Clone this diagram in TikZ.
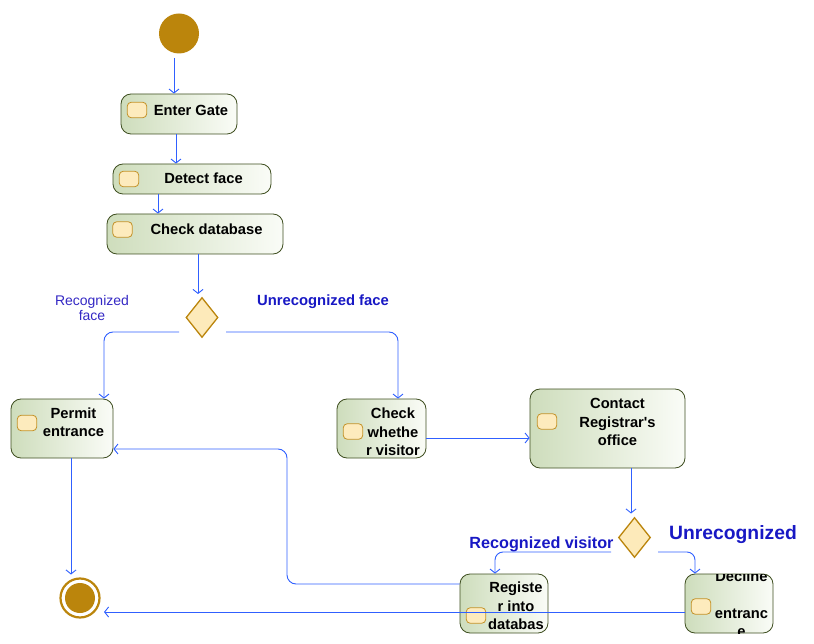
\documentclass[tikz,border=0pt]{standalone}
\usepackage{fontspec}
\setmainfont{Liberation Sans}
\newfontfamily\plainsans{Liberation Sans}
\usetikzlibrary{arrows.meta,shapes.geometric}
\definecolor{boxL}{RGB}{206,221,188}
\definecolor{boxR}{RGB}{250,252,247}
\definecolor{boxB}{RGB}{62,78,32}
\definecolor{iconF}{RGB}{253,235,189}
\definecolor{iconB}{RGB}{196,146,40}
\definecolor{gold}{RGB}{187,133,12}
\definecolor{diaF}{RGB}{253,234,186}
\definecolor{flowC}{RGB}{48,96,255}
\definecolor{lblA}{RGB}{52,40,196}
\definecolor{lblB}{RGB}{24,24,196}
\tikzset{
  act/.style={rectangle, rounded corners=10pt, draw=boxB, line width=0.8pt,
    left color=boxL, right color=boxR, inner sep=0pt},
  icon/.style={rectangle, rounded corners=4pt, draw=iconB, fill=iconF, line width=0.8pt,
    minimum width=19.5pt, minimum height=15.5pt, inner sep=0pt},
  atext/.style={font=\bfseries\fontsize{14.7}{18.3}\selectfont, align=center, inner sep=0pt},
  decis/.style={shape=diamond, draw=gold, fill=diaF, line width=1.3pt,
    minimum width=32pt, minimum height=40pt, inner sep=0pt},
  flow/.style={draw=flowC, line width=0.9pt, -{Straight Barb[length=4pt,width=10pt]}},
}
\begin{document}
\begin{tikzpicture}[x=1pt,y=-1pt]
\useasboundingbox (0,0) rectangle (814,644);
% start
\node[circle, fill=gold, minimum size=40pt, inner sep=0pt] (start) at (179,33.5) {};
% activities
\node[act, minimum width=116pt, minimum height=40pt] (enter) at (179,114) {};
\node[icon] (ienter) at (137,110) {};
\node[atext, anchor=base] (tenter) at (191,115.5) {Enter Gate};

\node[act, minimum width=158pt, minimum height=30pt] (detect) at (192,179) {};
\node[icon] (idetect) at (129,179) {};
\node[atext, anchor=base] (tdetect) at (203.5,184) {Detect face};

\node[act, minimum width=176pt, minimum height=40pt] (checkdb) at (195,234) {};
\node[icon] (icheckdb) at (122.5,229.5) {};
\node[atext, anchor=base] (tcheckdb) at (206.5,235) {Check database};

\node[decis] (d1) at (202,317.5) {};

\node[act, minimum width=102pt, minimum height=59pt] (permit) at (62,428.5) {};
\node[icon] (ipermit) at (27,423) {};
\node[atext] (tpermit) at (73.5,422.5) {Permit\\entrance};

\node[act, minimum width=89pt, minimum height=59pt] (checkv) at (381.5,428.5) {};
\node[icon] (icheckv) at (353,431.5) {};
\node[atext] (tcheckv) at (393,432) {Check\\whethe\\r visitor};

\node[act, minimum width=155pt, minimum height=79pt] (contact) at (607.5,428.5) {};
\node[icon] (icontact) at (547,421.5) {};
\node[atext] (tcontact) at (617.5,422) {Contact\\Registrar{\plainsans\bfseries '}s\\office};

\node[decis] (d2) at (634.5,537.5) {};

\node[act, minimum width=88pt, minimum height=59pt] (register) at (504,603.5) {};
\node[icon] (iregister) at (476,615.5) {};
\begin{scope}
\clip[rounded corners=10pt] (460,574) rectangle (548,633);
\node[atext] (tregister) at (516,606) {Registe\\r into\\databas};
\end{scope}

\node[act, minimum width=88pt, minimum height=59pt] (decline) at (729,603.5) {};
\node[icon] (idecline) at (701,606.5) {};
\begin{scope}
\clip[rounded corners=10pt] (685,574) rectangle (773,633);
\node[atext] (tdecline) at (741.5,604) {Decline\\\mbox{}\\entranc\\e};
\end{scope}

% final
\node[circle, draw=gold, line width=2.2pt, minimum size=39pt, inner sep=0pt] (final) at (80,598) {};
\node[circle, fill=gold, minimum size=30pt, inner sep=0pt] (finalin) at (80,598) {};

% labels
\node[font=\fontsize{14}{15.5}\selectfont, text=lblA, align=center, inner sep=0pt] (lrf) at (92,308) {Recognized\\face};
\node[font=\bfseries\fontsize{14.8}{17}\selectfont, text=lblB, anchor=base, inner sep=0pt] (luf) at (323,306) {Unrecognized face};
\node[font=\bfseries\fontsize{16.2}{18}\selectfont, text=lblB, anchor=base, inner sep=0pt] (lrv) at (541.5,548.5) {Recognized visitor};
\node[font=\bfseries\fontsize{19.3}{22}\selectfont, text=lblB, anchor=base, inner sep=0pt] (lun) at (733,539.5) {Unrecognized};

% connectors
\draw[flow] (start.south -| 174,0) ++(0,4.5) -- (enter.north -| 174,0);
\draw[flow] (enter.south -| 176,0) -- (detect.north -| 176,0);
\draw[flow] (detect.south -| 158,0) -- (checkdb.north -| 158,0);
\coordinate (d1in) at (198,294);
\draw[flow] (checkdb.south -| 198,0) -- (d1in);
\coordinate (d1l) at (179,332);
\coordinate (d1r) at (226,332);
\draw[flow, rounded corners=9pt] (d1l) -| (permit.north -| 104,0);
\draw[flow, rounded corners=9pt] (d1r) -| (checkv.north -| 398,0);
\draw[flow] (checkv.east |- 0,438) -- (contact.west |- 0,438);
\coordinate (d2in) at (631,513.5);
\draw[flow] (contact.south -| 631,0) -- (d2in);
\coordinate (d2l) at (611,552);
\coordinate (d2r) at (658,552);
\draw[flow, rounded corners=8pt] (d2l) -| (register.north -| 495,0);
\draw[flow, rounded corners=8pt] (d2r) -| (decline.north -| 695,0);
\draw[flow, rounded corners=9pt] (register.west |- 0,584) -| (287,449) -- (permit.east |- 0,449);
\coordinate (fin1) at (71,574.5);
\draw[flow] (permit.south -| 71,0) -- (fin1);
\coordinate (fin2) at (104,612);
\draw[flow] (decline.west |- 0,612) -- (fin2);
\end{tikzpicture}
\end{document}
